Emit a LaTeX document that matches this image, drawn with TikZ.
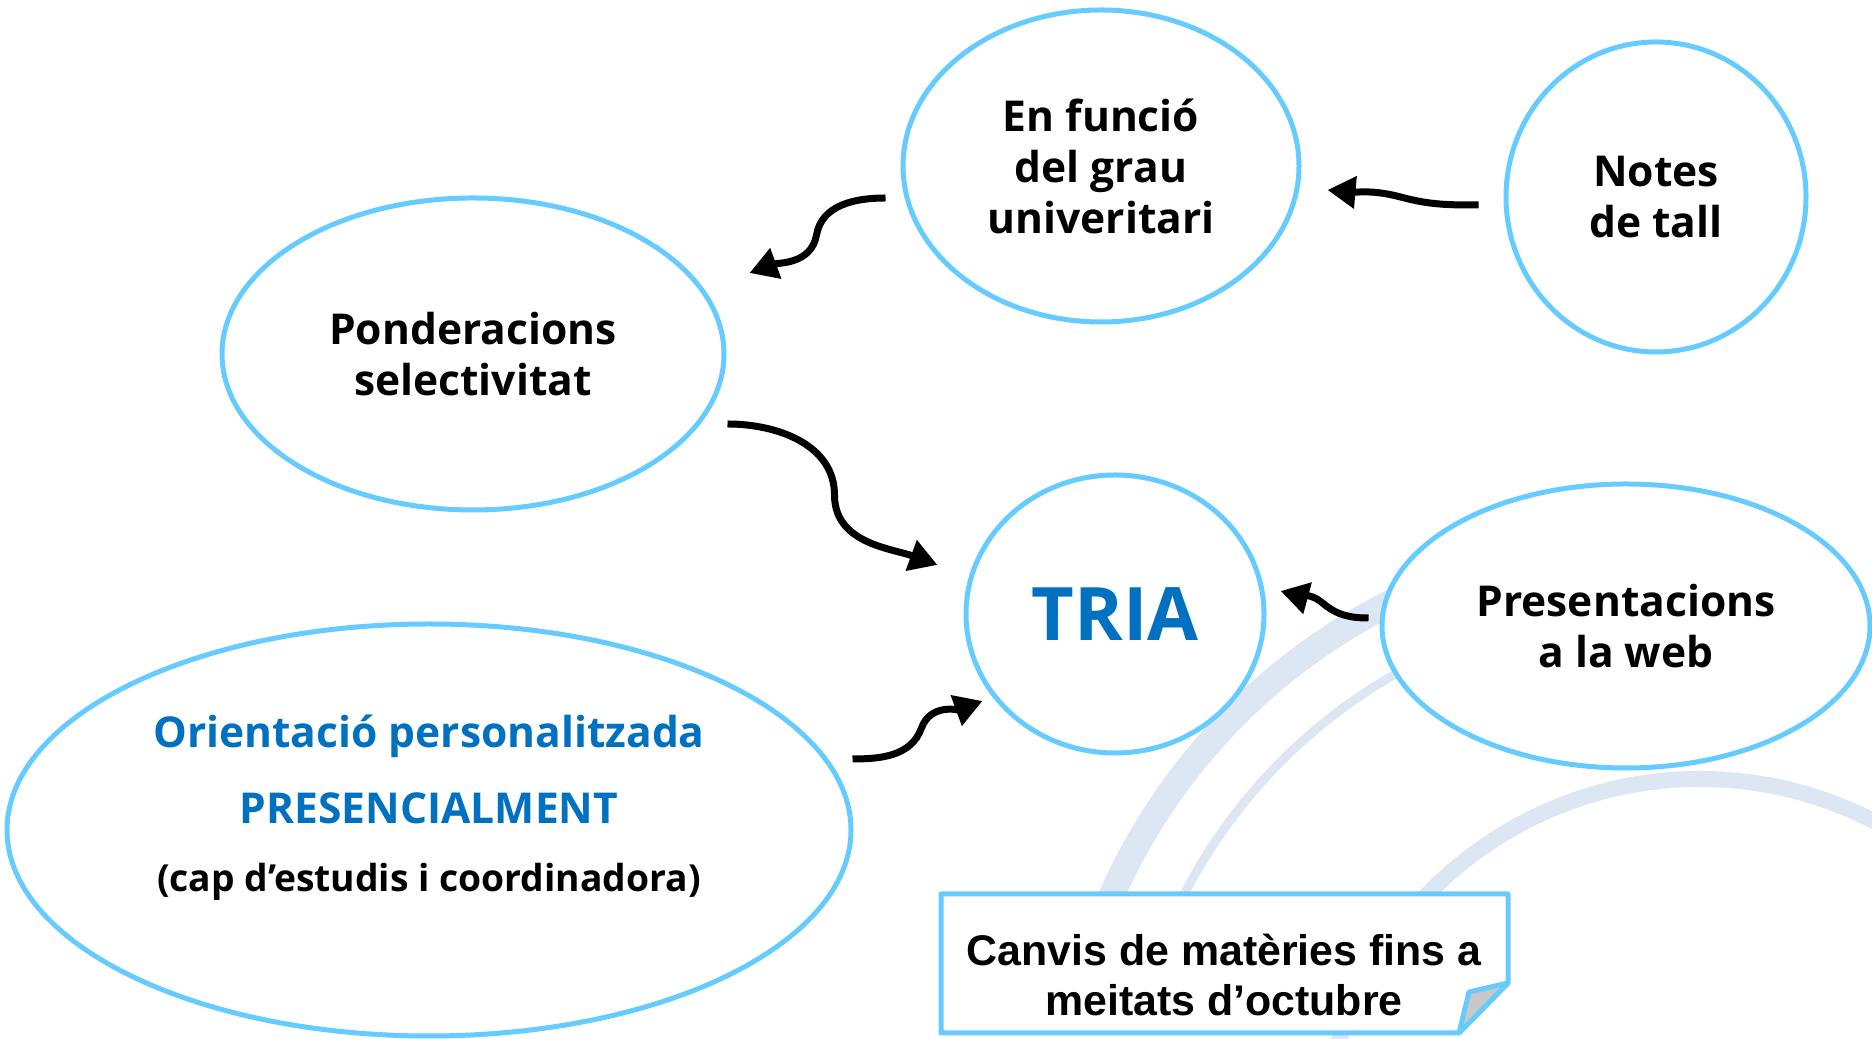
\documentclass[tikz,border=0pt]{standalone}
\usepackage{fontspec}
\setmainfont{Open Sans}
\newfontfamily\notefont{Liberation Sans}
\usetikzlibrary{shapes.geometric,arrows.meta,calc}
\definecolor{skyline}{HTML}{66CCFF}
\definecolor{triablue}{HTML}{0070C0}
\definecolor{seal}{HTML}{DDE7F3}
\definecolor{foldgray}{HTML}{C8C8C8}

\begin{document}
\begin{tikzpicture}[x=0.1mm,y=0.1mm,
  bubble/.style={ellipse, draw=skyline, line width=0.5mm, fill=white, inner sep=0pt,
    align=center, font=\bfseries\fontsize{12.1}{14.5}\selectfont},
  curly/.style={line width=0.7mm, -{Triangle[length=2.8mm,width=3.1mm]}}]
  \useasboundingbox (0,0) rectangle (1872,1039);

  \begin{scope}
    \clip (0,0) rectangle (1872,1039);
    \draw[seal, line width=2.6mm] (1660,-100) ++(168:600) arc[start angle=168, end angle=92, radius=600];
    \draw[seal, line width=0.9mm] (1660,-100) ++(166:535) arc[start angle=166, end angle=98, radius=535];
    \draw[seal, line width=1.6mm] (1700,-120) ++(172:380) arc[start angle=172, end angle=50, radius=380];
    \draw[seal, line width=1.6mm] (1700,-120) ++(62:640) arc[start angle=62, end angle=20, radius=640];
    \draw[seal, line width=0.9mm] (1700,-120) ++(60:580) arc[start angle=60, end angle=25, radius=580];
  \end{scope}

  \node[bubble, minimum width=39.6mm, minimum height=31.2mm] (funcio) at (1101,873) {En funció\\del grau\\univeritari};
  \node[bubble, minimum width=30mm, minimum height=31mm] (notes) at (1656,842) {Notes\\de tall};
  \node[bubble, minimum width=50.2mm, minimum height=31.2mm] (ponder) at (473,685) {Ponderacions\\selectivitat};
  \node[bubble, minimum width=29.8mm, minimum height=27.8mm, text=triablue,
    font=\bfseries\fontsize{21}{25}\selectfont] (tria) at (1115,425) {TRIA};
  \node[bubble, minimum width=48.8mm, minimum height=28.4mm] (present) at (1626,413) {Presentacions\\a la web};
  \node[bubble, minimum width=84.4mm, minimum height=41.2mm] (orient) at (429,209) {};
  \node[align=center, text=triablue, font=\bfseries\fontsize{12.1}{14.5}\selectfont] (orienttext)
    at ($(orient.center)+(0,22)$) {Orientació personalitzada\\[7pt]PRESENCIALMENT\\[5pt]%
    {\color{black}\fontsize{10.6}{13}\selectfont(cap d’estudis i coordinadora)}};

  \coordinate (boxsw) at (941,6);
  \coordinate (boxne) at (1508,145);
  \draw[skyline, line width=0.5mm, fill=white, line join=round]
    (boxsw) |- (boxne) -- ($(boxne)+(0,-89)$) -- ($(boxsw -| boxne)+(-49,0)$) -- cycle;
  \filldraw[draw=skyline, fill=foldgray, line width=0.5mm, line join=round]
    ($(boxne)+(0,-89)$) -- ($(boxne)+(-39,-98)$) -- ($(boxsw -| boxne)+(-49,0)$) -- cycle;
  \node[align=center, font=\notefont\bfseries\fontsize{12.2}{14.2}\selectfont] (canvis)
    at (1224,64) {Canvis de matèries fins a\\meitats d’octubre};

  \draw[curly] ($(funcio.west)+(-15,-32)$) to[out=180,in=80] ++(-69,-37)
    to[out=-100,in=20] ($(ponder.east)+(23,81)$);
  \draw[curly] ($(notes.west)+(-25,-8)$) to[out=180,in=-15] ++(-78,8)
    to[out=165,in=-5] ($(funcio.east)+(26,-24)$);
  \draw[curly] ($(ponder.east)+(1,-70)$) to[out=0,in=90] ++(107,-71)
    to[out=-90,in=160] ($(tria.west)+(-26,49)$);
  \draw[curly] ($(orient.east)+(-1,71)$) to[out=0,in=-110] ++(69,31)
    to[out=70,in=200] ($(tria.west)+(19,-87)$);
  \draw[curly] ($(present.west)+(-11,8)$) to[out=180,in=-40] ++(-46,15)
    to[out=140,in=-15] ($(tria.east)+(14,23)$);
\end{tikzpicture}
\end{document}
